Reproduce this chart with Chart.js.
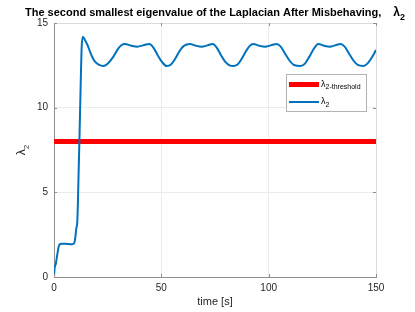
<!DOCTYPE html>
<html>
<head>
<meta charset="utf-8">
<script src="https://cdn.jsdelivr.net/npm/chart.js@4.4.1/dist/chart.umd.min.js"></script>
<style>
html,body{margin:0;padding:0;background:#fff;}
#wrap{width:415px;height:312px;}
</style>
</head>
<body>
<div id="wrap"><canvas id="c" width="415" height="312"></canvas></div>
<script>
// ---- data ----
const times = [0, 0.3, 0.8, 1.5, 2.2, 2.9, 4, 6, 8, 9.3, 10.0, 10.3, 10.9, 11.4, 11.9, 12.4, 12.9, 13.4,
  14.4, 15.6, 16.8, 18, 19.1, 20.6, 23, 25, 27.6, 30, 31.5, 33, 36, 38.8, 41.5, 44.4,
  46.3, 48.3, 50.3, 52.5, 54.5, 56.5, 58.5, 60.5, 63.3, 66, 68.8, 71.5, 73.9,
  75.8, 77.8, 79.8, 81.8, 83.5, 85.5, 87.5, 89.5, 91.2, 92.8, 95.5, 98.3, 101, 103.7,
  105.6, 107.6, 109.6, 111.8, 114.9, 116.9, 118.9, 120.9, 123.1, 125.8, 128.5, 131, 133.5,
  135.4, 137.4, 139.4, 141.5, 144.1, 146, 148, 150];
const lambda2 = [0, 0.55, 0.75, 1.3, 1.8, 1.95, 1.97, 1.95, 1.93, 1.98, 2.4, 2.8, 3.4, 5.8, 8.4, 11.2, 13.6, 14.19,
  14.0, 13.7, 13.3, 12.95, 12.72, 12.56, 12.46, 12.6, 13.0, 13.5, 13.7, 13.76, 13.66, 13.6, 13.68, 13.76,
  13.55, 13.1, 12.7, 12.46, 12.55, 12.9, 13.35, 13.65, 13.76, 13.66, 13.6, 13.68, 13.76,
  13.55, 13.1, 12.7, 12.5, 12.46, 12.55, 12.9, 13.35, 13.65, 13.76, 13.66, 13.6, 13.68, 13.76,
  13.6, 13.2, 12.8, 12.52, 12.46, 12.6, 13.0, 13.45, 13.76, 13.66, 13.6, 13.68, 13.76,
  13.6, 13.2, 12.8, 12.52, 12.46, 12.6, 12.95, 13.4];
const thresholdTimes = [0, 150];
const thresholdValues = [8, 8];
const xTicks = [0, 50, 100, 150];
const yTicks = [0, 5, 10, 15];
const titleText = "The second smallest eigenvalue of the Laplacian After Misbehaving,";
const xLabel = "time [s]";

const FONT = "'Liberation Sans', Arial, Helvetica, sans-serif";
const BLUE = "#0072BD";
const RED = "#FF0000";
const AXIS = "#8f8f8f";

function drawSub(ctx, x, y, base, sub, size, subSize, bold, align) {
  const w = bold ? "bold " : "";
  ctx.font = w + size + "px " + FONT;
  const bw = ctx.measureText(base).width;
  ctx.font = w + subSize + "px " + FONT;
  const sw = ctx.measureText(sub).width;
  let sx = x;
  if (align === "center") sx = x - (bw + sw) / 2;
  ctx.textAlign = "left";
  ctx.textBaseline = "alphabetic";
  ctx.font = w + size + "px " + FONT;
  ctx.fillText(base, sx, y);
  ctx.font = w + subSize + "px " + FONT;
  ctx.fillText(sub, sx + bw, y + size * 0.3);
}

const decor = {
  id: "decor",
  afterDraw(chart) {
    const ctx = chart.ctx;
    const a = chart.chartArea;
    const xs = chart.scales.x, ys = chart.scales.y;
    ctx.save();
    // box top/right
    ctx.strokeStyle = "#dcdcdc";
    ctx.lineWidth = 1;
    ctx.beginPath();
    ctx.moveTo(a.left, a.top + 0.5); ctx.lineTo(a.right + 0.5, a.top + 0.5); ctx.lineTo(a.right + 0.5, a.bottom);
    ctx.stroke();
    // inward ticks
    ctx.strokeStyle = AXIS;
    ctx.beginPath();
    xTicks.forEach(v => {
      const px = Math.round(xs.getPixelForValue(v)) + 0.5;
      ctx.moveTo(px, a.bottom); ctx.lineTo(px, a.bottom - 3);
      ctx.moveTo(px, a.top); ctx.lineTo(px, a.top + 3);
    });
    yTicks.forEach(v => {
      const py = Math.round(ys.getPixelForValue(v)) + 0.5;
      ctx.moveTo(a.left, py); ctx.lineTo(a.left + 3, py);
      ctx.moveTo(a.right, py); ctx.lineTo(a.right - 3, py);
    });
    ctx.stroke();

    // title
    ctx.fillStyle = "#000";
    ctx.font = "bold 11px " + FONT;
    ctx.textAlign = "left";
    ctx.textBaseline = "alphabetic";
    const tw = ctx.measureText(titleText).width;
    const gap = 12;
    ctx.font = "bold 12px " + FONT;
    const lw = ctx.measureText("λ").width;
    ctx.font = "bold 9px " + FONT;
    const sw = ctx.measureText("2").width;
    const total = tw + gap + lw + sw;
    const cx = (a.left + a.right) / 2;
    const tx = cx - total / 2;
    ctx.font = "bold 11px " + FONT;
    ctx.fillText(titleText, tx, 16);
    drawSub(ctx, tx + tw + gap, 16, "λ", "2", 12, 9, true, "left");

    // x label
    ctx.fillStyle = "#262626";
    ctx.font = "11px " + FONT;
    ctx.textAlign = "center";
    ctx.fillText(xLabel, cx, 305);

    // y label rotated
    ctx.save();
    ctx.translate(25, (a.top + a.bottom) / 2);
    ctx.rotate(-Math.PI / 2);
    drawSub(ctx, 0, 0, "λ", "2", 12, 8, false, "center");
    ctx.restore();

    // legend
    const lx = 286.5, ly = 74.5, lwid = 80, lh = 37;
    ctx.fillStyle = "#fff";
    ctx.fillRect(lx, ly, lwid, lh);
    ctx.strokeStyle = "#b4b4b4";
    ctx.lineWidth = 1;
    ctx.strokeRect(lx, ly, lwid, lh);
    const ds = chart.data.datasets;
    const entries = [
      {ds: ds[0], base: "λ", sub: "2-threshold", y: 84.5},
      {ds: ds[1], base: "λ", sub: "2", y: 102}
    ];
    entries.forEach(e => {
      ctx.strokeStyle = e.ds.borderColor;
      ctx.lineWidth = e.ds.borderWidth;
      ctx.beginPath();
      ctx.moveTo(289, e.y); ctx.lineTo(319, e.y);
      ctx.stroke();
      ctx.fillStyle = "#000";
      drawSub(ctx, 321, e.y + 2, e.base, e.sub, 9, 7, false, "left");
    });
    ctx.restore();
  }
};

new Chart(document.getElementById("c"), {
  type: "line",
  data: {
    datasets: [
      {
        label: "λ2-threshold",
        data: thresholdTimes.map((t, i) => ({x: t, y: thresholdValues[i]})),
        borderColor: RED,
        borderWidth: 5,
        pointRadius: 0,
        order: 1
      },
      {
        label: "λ2",
        data: times.map((t, i) => ({x: t, y: lambda2[i]})),
        borderColor: BLUE,
        borderWidth: 2,
        pointRadius: 0,
        cubicInterpolationMode: "monotone",
        order: 0
      }
    ]
  },
  options: {
    responsive: false,
    animation: false,
    layout: {padding: {top: 23, right: 39, left: 0, bottom: 0}},
    plugins: {legend: {display: false}, tooltip: {enabled: false}, title: {display: false}},
    scales: {
      x: {
        type: "linear", min: 0, max: 150,
        afterBuildTicks: s => { s.ticks = xTicks.map(v => ({value: v})); },
        afterFit: s => { s.height = 35; },
        grid: {color: "#ebebeb", drawTicks: false},
        border: {color: AXIS},
        ticks: {padding: 5, color: "#262626", font: {family: FONT, size: 10}, maxRotation: 0}
      },
      y: {
        type: "linear", min: 0, max: 15,
        afterBuildTicks: s => { s.ticks = yTicks.map(v => ({value: v})); },
        afterFit: s => { s.width = 54; },
        grid: {color: "#ebebeb", drawTicks: false},
        border: {color: AXIS},
        ticks: {padding: 6, color: "#262626", font: {family: FONT, size: 10}}
      }
    }
  },
  plugins: [decor]
});
</script>
</body>
</html>
